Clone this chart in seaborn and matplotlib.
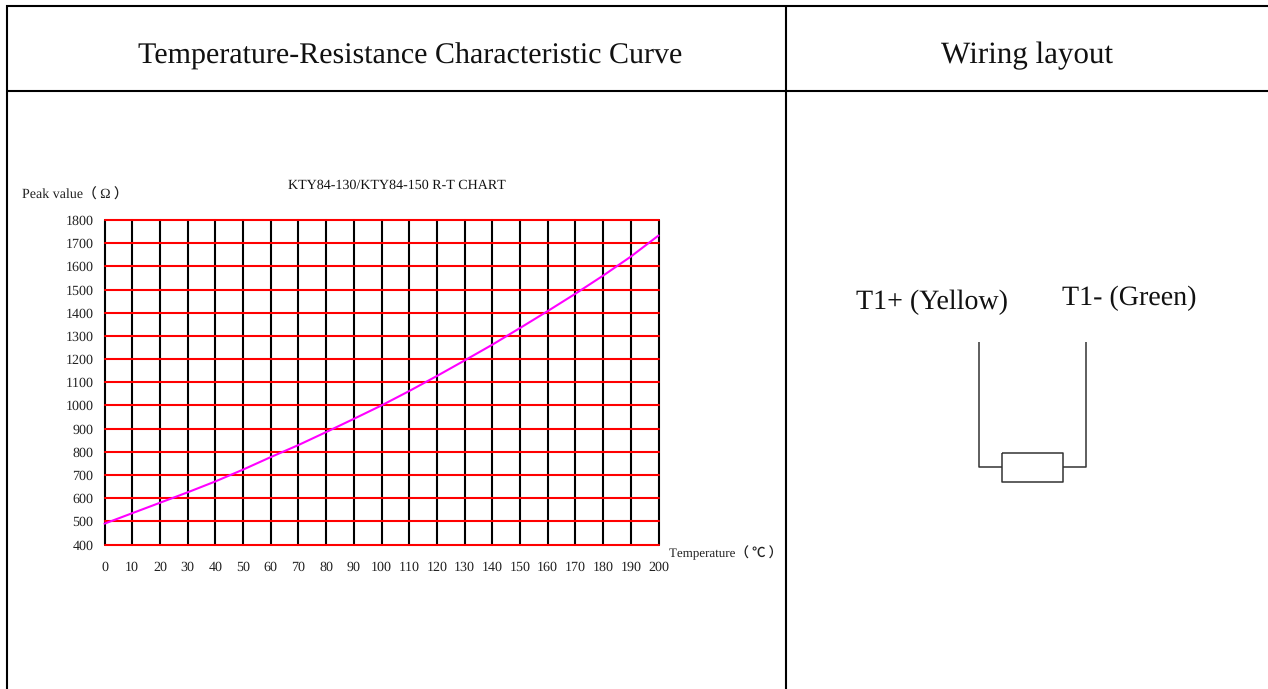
import matplotlib
matplotlib.use("Agg")
import matplotlib.pyplot as plt
import seaborn as sns
import pandas as pd

temperature = [0, 10, 20, 30, 40, 50, 60, 70, 80, 90, 100, 110, 120, 130, 140, 150, 160, 170, 180, 190, 200]
resistance = [490, 535, 580, 625, 672, 723, 777, 829, 885, 942, 1000, 1062, 1127, 1194, 1262, 1334, 1407, 1482, 1560, 1642, 1733]
y_ticks = list(range(400, 1900, 100))
chart_title = "KTY84-130/KTY84-150 R-T CHART"
y_title = "Peak value（ Ω ）"
x_title = "Temperature（ ℃ ）"
header_left = "Temperature-Resistance Characteristic Curve"
header_right = "Wiring layout"
wire_plus = "T1+ (Yellow)"
wire_minus = "T1- (Green)"

W, H = 1268, 689
sns.set_theme(style="white")
plt.rcParams["font.family"] = ["Liberation Serif", "Noto Sans CJK SC", "DejaVu Sans"]
plt.rcParams["text.hinting"] = "none"
plt.rcParams["text.hinting_factor"] = 1

fig = plt.figure(figsize=(W / 100, H / 100), dpi=100, facecolor="white")

# page overlay in pixel coordinates
page = fig.add_axes([0, 0, 1, 1], zorder=0)
page.set_xlim(0, W)
page.set_ylim(H, 0)
page.axis("off")
for xs, ys in [([7, 7], [5, H]), ([786, 786], [5, H]), ([6, 1268], [6, 6]), ([6, 1268], [90.5, 90.5])]:
    page.plot(xs, ys, color="black", lw=1.5, solid_capstyle="butt")

page.text(410, 53, header_left, fontsize=21.9, ha="center", va="center_baseline", color="#111111")
page.text(1027, 53, header_right, fontsize=22.5, ha="center", va="center_baseline", color="#111111")
page.text(396.5, 184, chart_title, fontsize=10.1, ha="center", va="center_baseline", color="#111111")
page.text(22, 194, y_title, fontsize=9.8, ha="left", va="center_baseline", color="#222222")
page.text(669, 551, x_title, fontsize=9.7, ha="left", va="center_baseline", color="#222222")
page.text(856, 299, wire_plus, fontsize=20, ha="left", va="center_baseline", color="#111111")
page.text(1062, 295, wire_minus, fontsize=20, ha="left", va="center_baseline", color="#111111")

# wiring diagram
wire = dict(color="#333333", lw=1.1, solid_capstyle="butt")
page.plot([979, 979, 1002], [342, 467, 467], **wire)
page.plot([1086, 1086, 1063], [342, 467, 467], **wire)
page.plot([1002, 1063, 1063, 1002, 1002], [453, 453, 482, 482, 453], **wire)

# chart
x0, x1, y_top, y_bot = 104.5, 658.5, 220, 544.5
ax = fig.add_axes([x0 / W, 1 - y_bot / H, (x1 - x0) / W, (y_bot - y_top) / H], zorder=2)
ax.patch.set_alpha(0)
df = pd.DataFrame({"t": temperature, "r": resistance})
ax.set_xlim(0, 200)
ax.set_ylim(400, 1800)
ax.set_xticks(temperature)
ax.set_yticks(y_ticks)
ax.grid(False)
for t in temperature:
    ax.axvline(t, color="black", lw=1.5, zorder=1, clip_on=False)
for r in y_ticks:
    ax.axhline(r, color="#ff0000", lw=1.5, zorder=2, clip_on=False)
sns.lineplot(data=df, x="t", y="r", ax=ax, color="#ff00ff", lw=1.5, zorder=3, clip_on=False)
ax.set_xlabel("")
ax.set_ylabel("")
for s in ax.spines.values():
    s.set_visible(False)
ax.tick_params(axis="both", length=0, labelsize=10, colors="#222222")
ax.tick_params(axis="x", pad=12)
ax.tick_params(axis="y", pad=8)
for lab in ax.get_yticklabels():
    lab.set_verticalalignment("center_baseline")

fig.savefig("out.png", dpi=100)
